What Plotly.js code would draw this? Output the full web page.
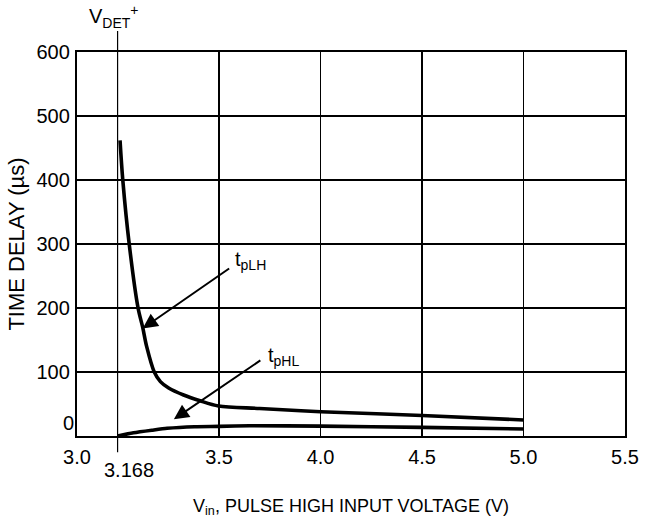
<!DOCTYPE html>
<html>
<head>
<meta charset="utf-8">
<script src="https://cdn.plot.ly/plotly-3.0.1.min.js"></script>
<style>html,body{margin:0;padding:0;background:#fff;}#chart{width:648px;height:523px;}</style>
</head>
<body>
<div id="chart"></div>
<script>
// ---- data ----
const vDet = 3.168;
const tpLH_v = [3.176, 3.185, 3.206, 3.235, 3.250, 3.263, 3.288, 3.308, 3.335, 3.384, 3.438, 3.498, 3.70, 4.0, 4.5, 5.0];
const tpLH_t = [462, 400, 300, 200, 170, 140, 100, 85, 75, 64, 55, 47, 43, 38, 32, 25];
const tpHL_v = [3.168, 3.22, 3.28, 3.33, 3.42, 3.5, 3.65, 4.0, 4.5, 5.0];
const tpHL_t = [0, 5, 9, 12, 14.5, 15, 16, 15.5, 13.5, 11];
const xTickVolts = [3.0, 3.5, 4.0, 4.5, 5.0, 5.5];
const xTickText = ['3.0', '3.5', '4.0', '4.5', '5.0', '5.5'];
const yTickVals = [100, 200, 300, 400, 500, 600];
const yTickText = ['100', '200', '300', '400', '500', '600'];

// The chart's x scale is compressed between 3.0 and V_DET+ and stretched between V_DET+ and 3.5
function toAxis(v) {
  if (v <= vDet) return 2.8 + (v - 3.0) / (vDet - 3.0) * 0.2;
  if (v <= 3.5) return 3.0 + (v - vDet) / (3.5 - vDet) * 0.5;
  return v;
}

const font = 'Liberation Sans, Arial, Helvetica, sans-serif';
const fs = 20;

const traces = [
  {x: tpLH_v.map(toAxis), y: tpLH_t, mode: 'lines', line: {color: '#000', width: 3.6, shape: 'spline', smoothing: 0.9}, hoverinfo: 'skip'},
  {x: tpHL_v.map(toAxis), y: tpHL_t, mode: 'lines', line: {color: '#000', width: 3.6, shape: 'spline', smoothing: 0.6}, hoverinfo: 'skip'}
];

const layout = {
  width: 648, height: 523,
  margin: {l: 77, r: 23, t: 52, b: 87},
  paper_bgcolor: '#fff', plot_bgcolor: '#fff',
  showlegend: false,
  font: {family: font, size: fs, color: '#000'},
  xaxis: {
    range: [2.8, 5.5], tickvals: xTickVolts.map(toAxis), ticktext: xTickText,
    showgrid: true, gridcolor: '#000', gridwidth: 1.2,
    showline: true, linecolor: '#000', linewidth: 2.2, mirror: true,
    ticks: '', zeroline: false, ticklabelstandoff: 2,
    tickfont: {family: font, size: fs, color: '#000'},
    title: {text: 'V<sub>in</sub>, PULSE HIGH INPUT VOLTAGE (V)', font: {family: font, size: 18, color: '#000'}, standoff: 32}
  },
  yaxis: {
    range: [0, 600], tickvals: yTickVals, ticktext: yTickText,
    showgrid: true, gridcolor: '#000', gridwidth: 1.2,
    showline: true, linecolor: '#000', linewidth: 2.2, mirror: true,
    ticks: '', zeroline: false, ticklabelstandoff: 1,
    tickfont: {family: font, size: fs, color: '#000'},
    title: {text: 'TIME DELAY (µs)', font: {family: font, size: 22, color: '#000'}, standoff: 6}
  },
  shapes: [
    {type: 'line', xref: 'x', yref: 'paper', x0: toAxis(vDet), x1: toAxis(vDet), y0: -0.042, y1: 1.055, line: {color: '#000', width: 1.2}}
  ],
  annotations: [
    {xref: 'paper', yref: 'paper', x: 0, y: 0, xanchor: 'right', yanchor: 'bottom', xshift: -1, yshift: 0, text: '0', showarrow: false, font: {size: fs}},
    {xref: 'x', yref: 'paper', x: toAxis(vDet), y: 0, xanchor: 'center', yanchor: 'top', xshift: 11, yshift: -21, text: '3.168', showarrow: false, font: {size: fs}},
    {xref: 'x', yref: 'paper', x: toAxis(vDet), y: 1.055, xanchor: 'center', yanchor: 'bottom', xshift: -4, yshift: -2, text: 'V<sub>DET</sub><sup>+</sup>', showarrow: false, font: {size: 20}},
    {xref: 'x', yref: 'y', x: toAxis(3.250), y: 168, ax: 88, ay: -61, text: '', showarrow: true, arrowhead: 2, arrowsize: 1.5, arrowwidth: 2, arrowcolor: '#000'},
    {xref: 'x', yref: 'y', x: toAxis(3.352), y: 26, ax: 88, ay: -60, text: '', showarrow: true, arrowhead: 2, arrowsize: 1.5, arrowwidth: 2, arrowcolor: '#000'},
    {xref: 'x', yref: 'y', x: toAxis(3.551), y: 263.6, xanchor: 'left', yanchor: 'bottom', xshift: 4, yshift: -8, text: 't<sub>pLH</sub>', showarrow: false, font: {size: 20}},
    {xref: 'x', yref: 'y', x: 3.71, y: 120, xanchor: 'left', yanchor: 'bottom', xshift: 4, yshift: -12, text: 't<sub>pHL</sub>', showarrow: false, font: {size: 20}}
  ]
};

Plotly.newPlot('chart', traces, layout, {staticPlot: true, displayModeBar: false});
</script>
</body>
</html>
